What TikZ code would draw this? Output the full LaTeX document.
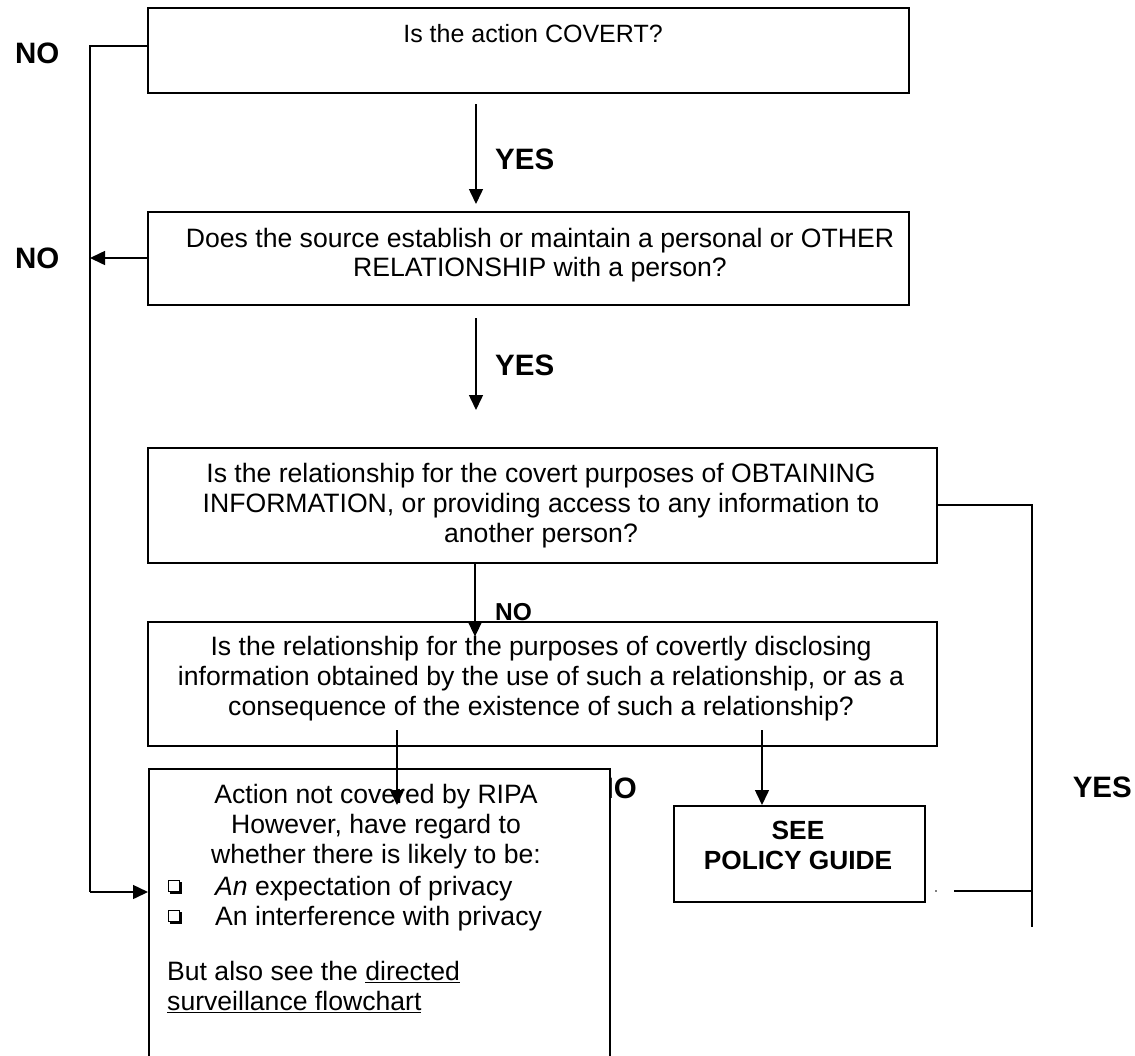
\documentclass[tikz,border=0pt]{standalone}
\usepackage{fontspec}
\setmainfont{Liberation Sans}
\usetikzlibrary{arrows.meta,calc}
\begin{document}
\begin{tikzpicture}[x=1pt,y=-1pt,
 box/.style={draw, line width=1.6pt, fill=white, inner sep=0pt, anchor=north west},
 conn/.style={line width=1.5pt},
 arr/.style={conn, -{Triangle[length=15pt,width=14pt]}},
 qtext/.style={font=\fontsize{26.6}{30}\selectfont, align=center, inner sep=0pt, anchor=north},
 btext/.style={font=\fontsize{26.6}{30}\selectfont, inner sep=0pt},
 lab/.style={font=\bfseries\fontsize{29.5}{34}\selectfont, inner sep=0pt}]
\useasboundingbox (0,0) rectangle (1135,1055);
\clip (0,0) rectangle (1135,1055);

% boxes
\node[box, minimum width=761pt, minimum height=85pt] (b1) at (147,7) {};
\node[box, minimum width=761pt, minimum height=93pt] (b2) at (147,211) {};
\node[box, minimum width=789pt, minimum height=115pt] (b3) at (147,447) {};
\node[box, minimum width=789pt, minimum height=124pt] (b4) at (147,621) {};

% partly hidden label behind box 5
\node[lab, anchor=base east] (lno3) at (637,798) {NO};

\node[box, minimum width=461pt, minimum height=330pt] (b5) at (148,768) {};
\node[box, minimum width=251pt, minimum height=96pt] (b6) at (673,805) {};

% texts
\node[btext, anchor=base, font=\fontsize{25}{30}\selectfont] (t1) at (533,42) {Is the action COVERT?};
\node[qtext, font=\fontsize{26.6}{29}\selectfont] (t2) at (540,228) {Does the source establish or maintain a personal or OTHER\\RELATIONSHIP with a person?};
\node[qtext] (t3) at (541,463) {Is the relationship for the covert purposes of OBTAINING\\INFORMATION, or providing access to any information to\\another person?};
\node[qtext] (t4) at (541,636) {Is the relationship for the purposes of covertly disclosing\\information obtained by the use of such a relationship, or as a\\consequence of the existence of such a relationship?};
\node[qtext] (t5) at (376,784) {Action not covered by RIPA\\However, have regard to\\whether there is likely to be:};
\node[btext, anchor=base west] (t5a) at (215,895) {\textit{An} expectation of privacy};
\node[btext, anchor=base west] (t5b) at (215,925) {An interference with privacy};
\node[qtext, align=left, anchor=north west] (t5c) at (167,961) {But also see the \underline{directed}\\\underline{surveillance flowchart}};
\node[qtext, font=\bfseries\fontsize{26.3}{30}\selectfont] (t6) at (798,821) {SEE\\POLICY GUIDE};

% bullets
\foreach \yy in {880,910} {
  \fill (170,\yy+2) rectangle (182,\yy+14);
  \filldraw[fill=white, draw=black, line width=1pt] (168,\yy) rectangle (179,\yy+11);
}

% labels
\node[lab, anchor=base west] (lno1) at (15,63) {NO};
\node[lab, anchor=base west] (lno2) at (15,268) {NO};
\node[lab, anchor=base west] (lyes1) at (495,169) {YES};
\node[lab, anchor=base west] (lyes2) at (495,375) {YES};
\node[lab, anchor=base west, font=\bfseries\fontsize{24.5}{28}\selectfont] (lno4) at (495,620) {NO};
\node[lab, anchor=base east] (lyes3) at (1132,797) {YES};

% coordinates
\coordinate (L1) at (90,46);
\coordinate (L2) at (90,892);
\coordinate (L3) at (90,258);
\coordinate (Y1s) at (476,104);
\coordinate (Y1e) at (476,204);
\coordinate (Y2s) at (476,318);
\coordinate (Y2e) at (476,410);
\coordinate (M1) at (475,0);
\coordinate (A1s) at (397,730);
\coordinate (A2s) at (762,730);
\coordinate (R1) at (1032,505);
\coordinate (R2) at (1032,927);
\coordinate (R3) at (954,891);
\coordinate (R4) at (1032,891);

% connectors
\draw[conn] (b1.west |- L1) -- (L1) -- (L2);
\draw[arr] (L2) -- (L2 -| b5.west);
\draw[arr] (b2.west |- L3) -- (L3);
\draw[arr] (Y1s) -- (Y1e);
\draw[arr] (Y2s) -- (Y2e);
\draw[arr] (b3.south -| M1) -- ($(b3.south -| M1)+(0,73)$);
\draw[arr] (A1s) -- (A1s |- 0,805);
\draw[arr] (A2s) -- (A2s |- b6.north);
\draw[conn] (b3.east |- R1) -- (R1) -- (R2);
\draw[conn] (R3) -- (R4);
\fill[gray] (935,890) rectangle (937,892);
\end{tikzpicture}
\end{document}
